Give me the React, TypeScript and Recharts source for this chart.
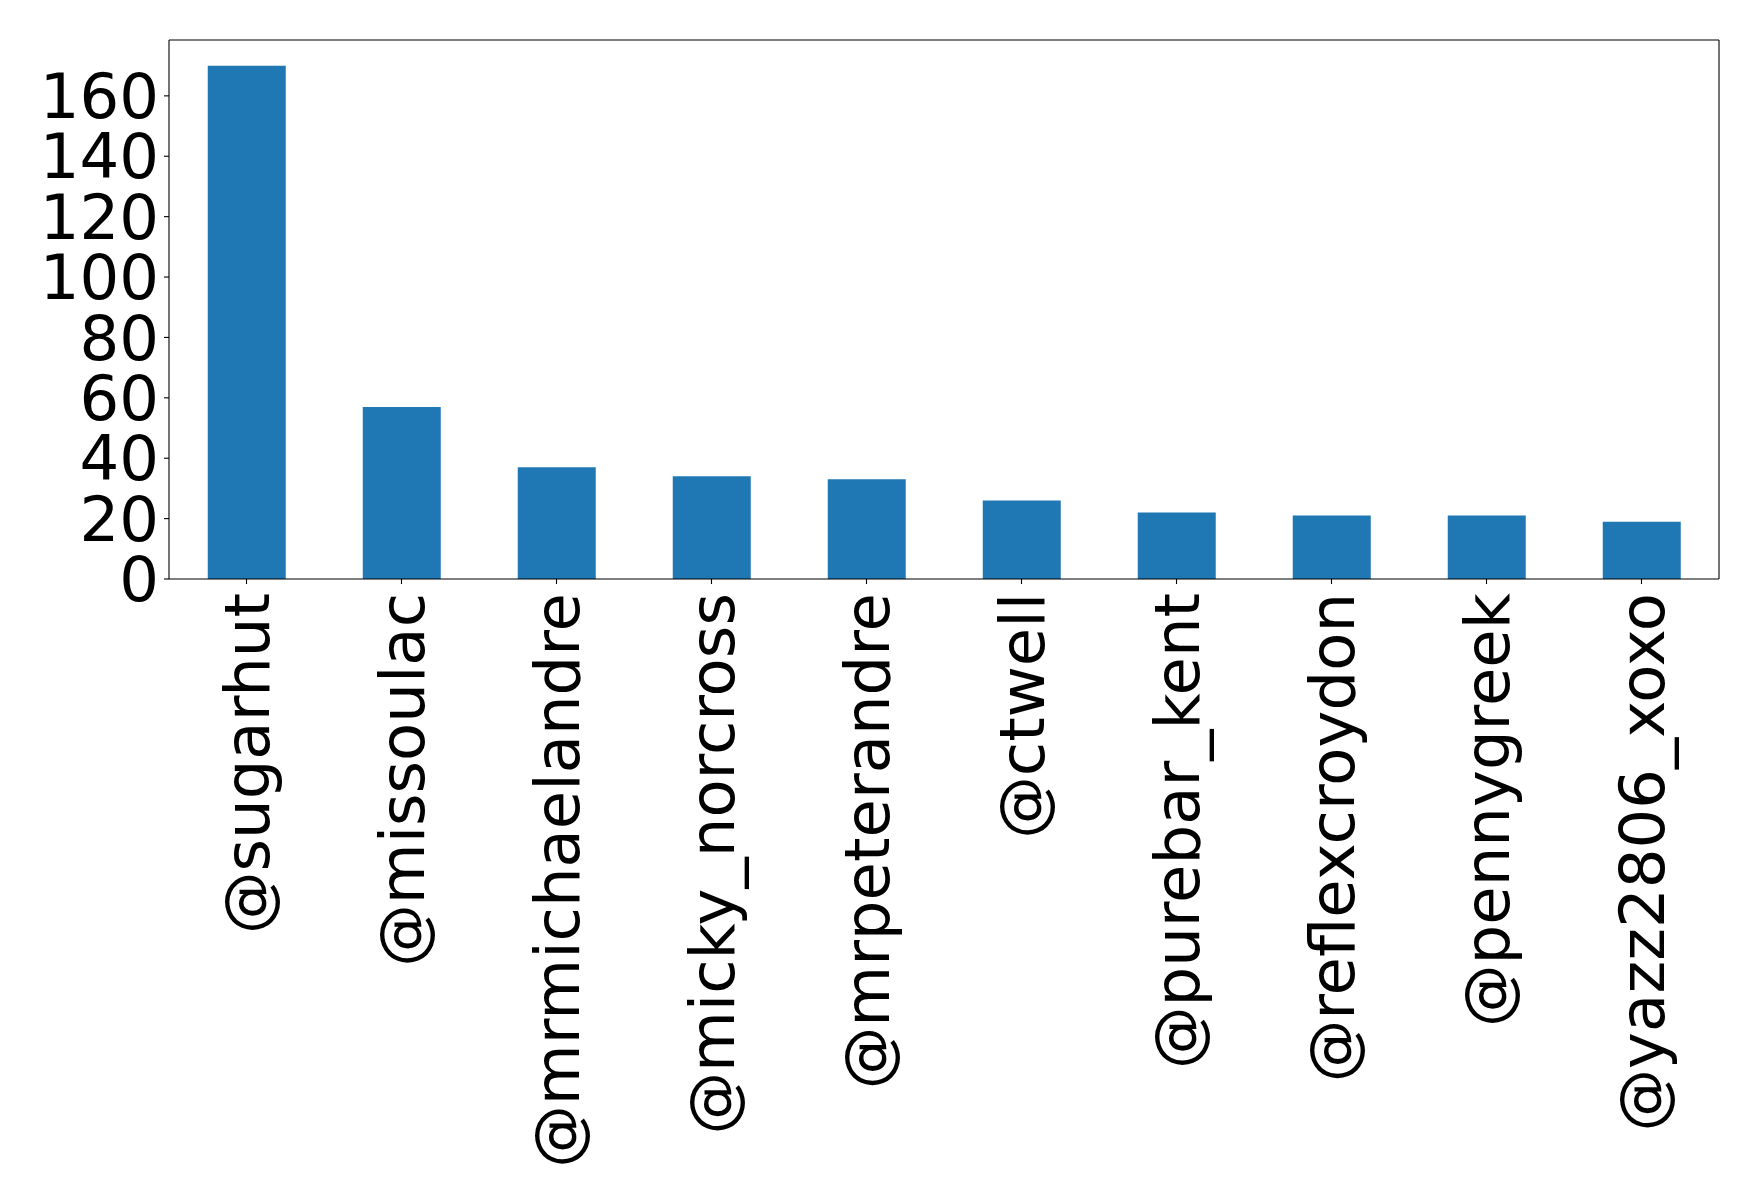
import React from 'react';
import { ComposedChart, Bar, Line, XAxis, YAxis } from 'recharts';

const categories = ['@sugarhut', '@missoulac', '@mrmichaelandre', '@micky_norcross', '@mrpeterandre', '@ctwell', '@purebar_kent', '@reflexcroydon', '@pennygreek', '@yazz2806_xoxo'];
const counts = [170, 57, 37, 34, 33, 26, 22, 21, 21, 19];
const yTicks = [0, 20, 40, 60, 80, 100, 120, 140, 160];

const data = categories.map((name, i) => ({ name, count: counts[i] }));

const FONT = '"DejaVu Sans", sans-serif';
const FS = 62.5;

const XTick = (props: any) => {
  const { x, y, payload } = props;
  return (
    <text
      x={x}
      y={y}
      transform={`rotate(-90 ${x} ${y})`}
      textAnchor="end"
      dy="0.36em"
      fontFamily={FONT}
      fontSize={FS}
      fill="#000"
    >
      {payload.value}
    </text>
  );
};

export default function App() {
  return (
    <div style={{ position: 'absolute', left: 0, top: 0, width: 1758, height: 1203, background: '#fff' }}>
      <ComposedChart
        width={1758}
        height={1203}
        data={data}
        margin={{ top: 39, right: 38, left: 0, bottom: 0 }}
        barCategoryGap="25%"
      >
        <XAxis
          dataKey="name"
          xAxisId="main"
          height={624}
          interval={0}
          tick={<XTick />}
          tickSize={5}
          tickMargin={9}
          stroke="#000"
          strokeWidth={1.1}
        />
        <XAxis
          dataKey="name"
          xAxisId="top"
          orientation="top"
          height={1}
          tick={false}
          tickLine={false}
          stroke="#000"
          strokeWidth={1.1}
        />
        <YAxis
          yAxisId="main"
          width={169}
          domain={[0, 178.5]}
          ticks={yTicks}
          interval={0}
          tickSize={5}
          tickMargin={5}
          tick={{ fontFamily: FONT, fontSize: FS, fill: '#000' }}
          stroke="#000"
          strokeWidth={1.1}
          allowDataOverflow
        />
        <YAxis
          yAxisId="right"
          orientation="right"
          width={1}
          domain={[0, 178.5]}
          tick={false}
          tickLine={false}
          stroke="#000"
          strokeWidth={1.1}
        />
        <Bar dataKey="count" xAxisId="main" yAxisId="main" fill="#1f77b4" isAnimationActive={false} />
        <Line dataKey="count" xAxisId="top" yAxisId="right" stroke="none" dot={false} activeDot={false} isAnimationActive={false} legendType="none" />
      </ComposedChart>
    </div>
  );
}
